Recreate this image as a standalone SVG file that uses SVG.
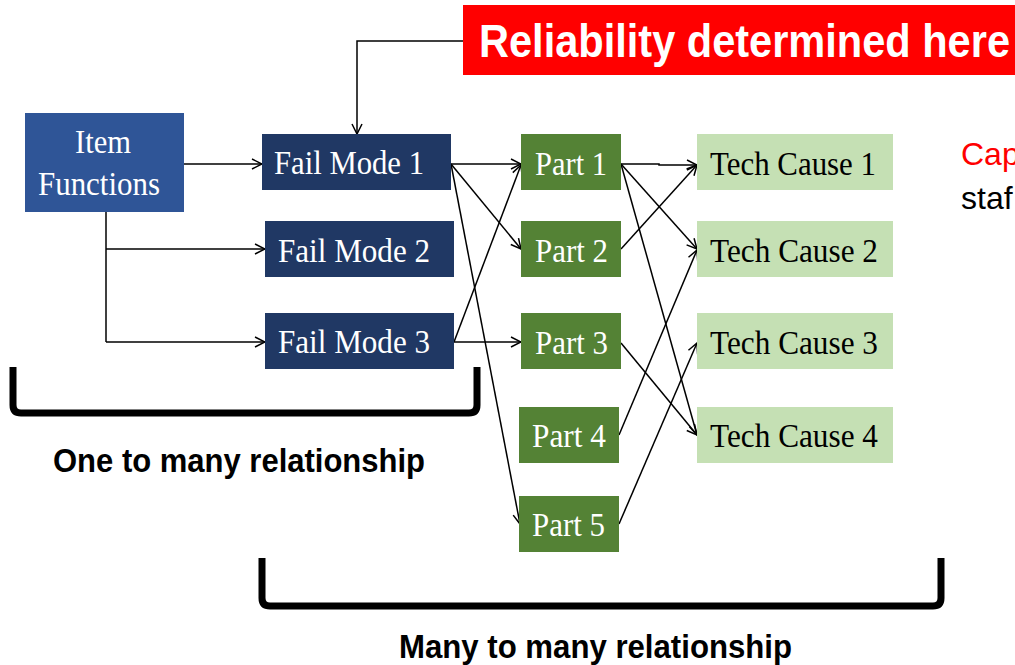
<svg xmlns="http://www.w3.org/2000/svg" width="1015" height="665" viewBox="0 0 1015 665">
  <style>
    .node-text { font-family: "Liberation Serif", "Times New Roman", serif; font-size: 33px; }
    .light { fill: #ffffff; }
    .dark { fill: #000000; }
    .item { fill: #2F5597; }
    .mode { fill: #203864; }
    .part { fill: #548235; }
    .cause { fill: #C5E0B4; }
    .link { fill: none; stroke: #000000; stroke-width: 1.5; marker-end: url(#arr); }
    .plain { fill: none; stroke: #000000; stroke-width: 1.5; }
    .bracket { fill: none; stroke: #000000; stroke-width: 7; stroke-linejoin: round; stroke-linecap: butt; }
    .caption { font-family: "Liberation Sans", Arial, sans-serif; font-weight: bold; font-size: 33px; fill: #000000; }
  </style>
  <defs>
    <marker id="arr" viewBox="0 0 12 12" refX="11" refY="6" markerWidth="12" markerHeight="12" markerUnits="userSpaceOnUse" orient="auto">
      <path d="M1,1 L11,6 L1,11" fill="none" stroke="#000000" stroke-width="1.5"/>
    </marker>
  </defs>

  <!-- banner -->
  <g id="banner">
    <rect x="463" y="5" width="560" height="70" fill="#FF0000"/>
    <text x="479" y="57" font-family="Liberation Sans, Arial, sans-serif" font-weight="bold" font-size="46" fill="#ffffff" textLength="531" lengthAdjust="spacingAndGlyphs">Reliability determined here</text>
  </g>

  <!-- side note, clipped at the right edge -->
  <g id="note" font-family="Liberation Sans, Arial, sans-serif" font-size="32">
    <text x="961" y="165" fill="#FF0000">Cap</text>
    <text x="961" y="209" fill="#000000">staf</text>
  </g>

  <!-- connectors -->
  <g id="connectors">
    <path class="link" d="M463,41 L357,41 L357,134"/>
    <path class="link" d="M184,164 L262,164"/>
    <path class="plain" d="M106,212 L106,342"/>
    <path class="link" d="M106,249 L265,249"/>
    <path class="link" d="M106,342 L265,342"/>

    <path class="link" d="M451,164 L521,164"/>
    <path class="link" d="M451,164 L521,249"/>
    <path class="link" d="M451,164 L520,524"/>
    <path class="link" d="M454,342 L521,342"/>
    <path class="link" d="M454,342 L521,165"/>

    <path class="link" d="M621,164 L659,164 L659,165 L697,165"/>
    <path class="link" d="M621,164 L697,249"/>
    <path class="link" d="M621,164 L697,435"/>
    <path class="link" d="M621,249 L697,165"/>
    <path class="link" d="M621,343 L697,435"/>
    <path class="link" d="M619,435 L697,250"/>
    <path class="link" d="M619,524 L697,343"/>
  </g>

  <!-- function -->
  <g id="item-functions">
    <rect class="item" x="25" y="113" width="159" height="99"/>
    <text class="node-text light" x="75" y="153" textLength="56" lengthAdjust="spacingAndGlyphs">Item</text>
    <text class="node-text light" x="38" y="195" textLength="122" lengthAdjust="spacingAndGlyphs">Functions</text>
  </g>

  <!-- failure modes -->
  <g id="fail-mode-1">
    <rect class="mode" x="262" y="134" width="189" height="56"/>
    <text class="node-text light" x="274" y="174" textLength="150" lengthAdjust="spacingAndGlyphs">Fail Mode 1</text>
  </g>
  <g id="fail-mode-2">
    <rect class="mode" x="265" y="221" width="189" height="56"/>
    <text class="node-text light" x="278" y="262" textLength="152" lengthAdjust="spacingAndGlyphs">Fail Mode 2</text>
  </g>
  <g id="fail-mode-3">
    <rect class="mode" x="265" y="313" width="189" height="56"/>
    <text class="node-text light" x="278" y="353" textLength="152" lengthAdjust="spacingAndGlyphs">Fail Mode 3</text>
  </g>

  <!-- parts -->
  <g id="part-1">
    <rect class="part" x="521" y="134" width="100" height="56"/>
    <text class="node-text light" x="535" y="175" textLength="72" lengthAdjust="spacingAndGlyphs">Part 1</text>
  </g>
  <g id="part-2">
    <rect class="part" x="521" y="221" width="100" height="56"/>
    <text class="node-text light" x="535" y="262" textLength="73" lengthAdjust="spacingAndGlyphs">Part 2</text>
  </g>
  <g id="part-3">
    <rect class="part" x="521" y="313" width="100" height="56"/>
    <text class="node-text light" x="535" y="354" textLength="73" lengthAdjust="spacingAndGlyphs">Part 3</text>
  </g>
  <g id="part-4">
    <rect class="part" x="519" y="407" width="100" height="56"/>
    <text class="node-text light" x="532" y="447" textLength="74" lengthAdjust="spacingAndGlyphs">Part 4</text>
  </g>
  <g id="part-5">
    <rect class="part" x="519" y="496" width="100" height="56"/>
    <text class="node-text light" x="532" y="536" textLength="73" lengthAdjust="spacingAndGlyphs">Part 5</text>
  </g>

  <!-- technical causes -->
  <g id="tech-cause-1">
    <rect class="cause" x="697" y="134" width="196" height="56"/>
    <text class="node-text dark" x="710" y="175" textLength="166" lengthAdjust="spacingAndGlyphs">Tech Cause 1</text>
  </g>
  <g id="tech-cause-2">
    <rect class="cause" x="697" y="221" width="196" height="56"/>
    <text class="node-text dark" x="710" y="262" textLength="168" lengthAdjust="spacingAndGlyphs">Tech Cause 2</text>
  </g>
  <g id="tech-cause-3">
    <rect class="cause" x="697" y="313" width="196" height="56"/>
    <text class="node-text dark" x="710" y="354" textLength="168" lengthAdjust="spacingAndGlyphs">Tech Cause 3</text>
  </g>
  <g id="tech-cause-4">
    <rect class="cause" x="697" y="407" width="196" height="56"/>
    <text class="node-text dark" x="710" y="447" textLength="168" lengthAdjust="spacingAndGlyphs">Tech Cause 4</text>
  </g>

  <!-- grouping brackets -->
  <g id="one-to-many">
    <path class="bracket" d="M13,367 L13,405 Q13,413 21,413 L469,413 Q477,413 477,405 L477,367"/>
    <text class="caption" x="53" y="472" textLength="372" lengthAdjust="spacingAndGlyphs">One to many relationship</text>
  </g>
  <g id="many-to-many">
    <path class="bracket" d="M262,558 L262,598 Q262,606 270,606 L933,606 Q941,606 941,598 L941,558"/>
    <text class="caption" x="399" y="658" textLength="393" lengthAdjust="spacingAndGlyphs">Many to many relationship</text>
  </g>
</svg>
